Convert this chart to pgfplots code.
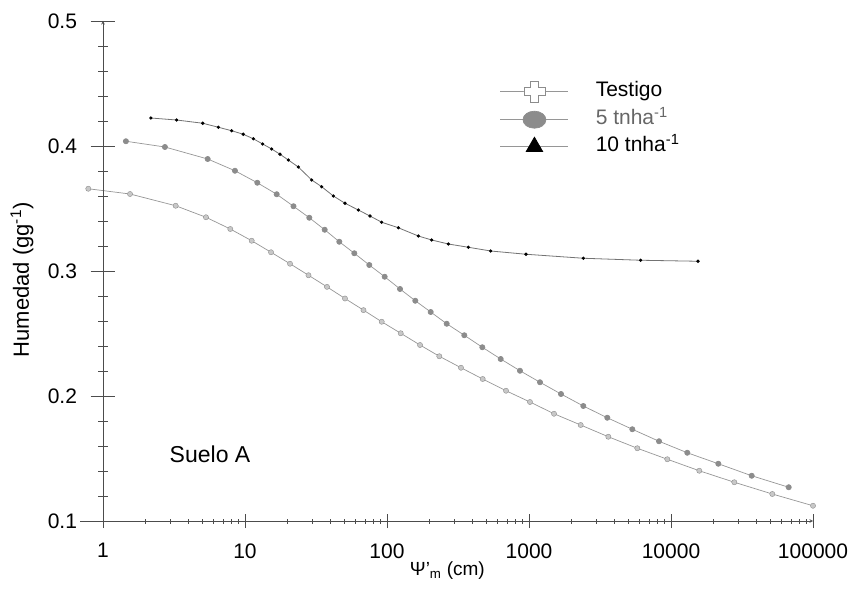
\documentclass[border=0pt]{standalone}
\usepackage{fontspec}
\setmainfont{Liberation Sans}
\usepackage{pgfplots}
\pgfplotsset{compat=1.18}
\definecolor{curvegray}{RGB}{150,150,150}
\definecolor{markgray}{RGB}{140,140,140}
\definecolor{lightmark}{RGB}{200,200,200}
\pgfdeclareplotmark{ocross}{%
  \pgfpathmoveto{\pgfqpoint{-0.38\pgfplotmarksize}{\pgfplotmarksize}}%
  \pgfpathlineto{\pgfqpoint{0.38\pgfplotmarksize}{\pgfplotmarksize}}%
  \pgfpathlineto{\pgfqpoint{0.38\pgfplotmarksize}{0.38\pgfplotmarksize}}%
  \pgfpathlineto{\pgfqpoint{\pgfplotmarksize}{0.38\pgfplotmarksize}}%
  \pgfpathlineto{\pgfqpoint{\pgfplotmarksize}{-0.38\pgfplotmarksize}}%
  \pgfpathlineto{\pgfqpoint{0.38\pgfplotmarksize}{-0.38\pgfplotmarksize}}%
  \pgfpathlineto{\pgfqpoint{0.38\pgfplotmarksize}{-\pgfplotmarksize}}%
  \pgfpathlineto{\pgfqpoint{-0.38\pgfplotmarksize}{-\pgfplotmarksize}}%
  \pgfpathlineto{\pgfqpoint{-0.38\pgfplotmarksize}{-0.38\pgfplotmarksize}}%
  \pgfpathlineto{\pgfqpoint{-\pgfplotmarksize}{-0.38\pgfplotmarksize}}%
  \pgfpathlineto{\pgfqpoint{-\pgfplotmarksize}{0.38\pgfplotmarksize}}%
  \pgfpathlineto{\pgfqpoint{-0.38\pgfplotmarksize}{0.38\pgfplotmarksize}}%
  \pgfpathclose
  \pgfusepathqfillstroke
}
\begin{document}
\begin{tikzpicture}[font=\fontsize{21}{24}\selectfont]
\begin{axis}[
  scale only axis,
  width=710pt, height=500pt,
  xmode=log,
  xmin=1, xmax=100000,
  ymin=0.1, ymax=0.5,
  clip=false,
  axis line style={-, black!70, line width=0.6pt},
  tick align=outside,
  tick style={black!70, line width=0.6pt},
  /pgf/number format/assume math mode=true,
  axis x line=bottom, axis y line=none,
  xtick={1,10,100,1000,10000,100000},
  xticklabels={1,10,100,1000,10000,100000},
  xticklabel style={font=\fontsize{21}{24}\selectfont, yshift=-12pt},
  major tick length=14pt, minor tick length=5pt,
  xlabel={Ψ’\textsubscript{m} (cm)},
  xlabel style={font=\fontsize{19}{22}\selectfont, at={([yshift=-50pt]rel axis cs:0.485,0)}, anchor=center},
  legend style={draw=none, fill=none, inner sep=0pt, at={(rel axis cs:0.559,0.880)}, anchor=north west,
    row sep=8.5pt, font=\fontsize{21}{24}\selectfont,
    nodes={inner ysep=0pt, inner xsep=0pt, text height=14pt, text depth=4pt},
    /tikz/every odd column/.append style={column sep=27pt}},
  legend cell align=left,
  legend image code/.code={\draw[mark repeat=2,mark phase=2,#1] plot coordinates {(0pt,0pt) (34pt,0pt) (68pt,0pt)};},
]
\addplot[curvegray, line width=0.7pt, mark=*, mark size=2.6pt, mark options={fill=lightmark, draw=markgray, line width=0.4pt}, forget plot] coordinates {
(0.788,0.3658) (1.55,0.3616) (3.25,0.3522) (5.31,0.3430) (7.88,0.3336) (11.15,0.3242) (15.25,0.3150) (20.75,0.3058) (28.0,0.2966) (37.8,0.2873) (50.6,0.2780) (68.3,0.2687) (91.8,0.2594) (124.9,0.2502) (170.8,0.2408) (233.5,0.2318) (332,0.2226) (472,0.2136) (689,0.2042) (1016,0.1952) (1500,0.1858) (2312,0.1768) (3619,0.1674) (5790,0.1582) (9417,0.1494) (15820,0.1402) (27910,0.1310) (51690,0.1216) (100000,0.1122)
};
\addplot[curvegray, line width=0.7pt, mark=*, mark size=2.6pt, mark options={fill=markgray, draw=markgray}, forget plot] coordinates {
(1.45,0.4038) (2.73,0.3992) (5.46,0.3896) (8.50,0.3802) (12.21,0.3706) (16.72,0.3614) (21.95,0.3518) (28.37,0.3426) (36.42,0.3330) (46.14,0.3234) (58.85,0.3142) (75.06,0.3048) (96.3,0.2954) (123.5,0.2856) (158.2,0.2762) (203.1,0.2672) (263.3,0.2578) (350.3,0.2486) (469.1,0.2390) (632,0.2296) (864,0.2202) (1195,0.2110) (1680,0.2016) (2413,0.1920) (3559,0.1826) (5340,0.1734) (8231,0.1638) (13020,0.1546) (21540,0.1458) (37010,0.1362) (67440,0.1270)
};
\addplot[black!55, line width=0.8pt, mark=*, mark size=1.2pt, mark options={fill=black, draw=black}, forget plot] coordinates {
(2.17,0.4224) (3.30,0.4208) (5.04,0.4182) (6.49,0.4150) (8.06,0.4122) (9.72,0.4094) (11.44,0.4058) (13.32,0.4016) (15.42,0.3976) (17.64,0.3934) (20.18,0.3888) (23.74,0.3832) (29.5,0.3728) (34.7,0.3674) (41.9,0.3600) (50.6,0.3542) (62.8,0.3488) (75.9,0.3440) (91.8,0.3390) (120.1,0.3346) (166.2,0.3280) (206.5,0.3248) (270.2,0.3216) (373.7,0.3190) (537.5,0.3160) (952.6,0.3134) (2413,0.3102) (6117,0.3086) (15490,0.3078)
};
\addlegendimage{curvegray, line width=0.7pt, mark=ocross, mark size=10.5pt, mark options={fill=white, draw=markgray, line width=0.7pt}}
\addlegendentry{Testigo}
\addlegendimage{curvegray, line width=0.7pt, mark=*, mark size=8.5pt, mark options={xscale=1.35, fill=markgray, draw=markgray}}
\addlegendentry{\textcolor{black!60}{5 tnha\textsuperscript{-1}}}
\addlegendimage{curvegray, line width=0.7pt, mark=triangle*, mark size=9.5pt, mark options={fill=black, draw=black}}
\addlegendentry{10 tnha\textsuperscript{-1}}
\draw[black!70, line width=0.6pt] (axis cs:0.69,0.1) -- (axis cs:1,0.1);
\node[font=\fontsize{23}{26}\selectfont] at (axis cs:5.67,0.153) {Suelo A};
\coordinate (ll) at (rel axis cs:0,0);
\coordinate (ur) at (rel axis cs:1,1);
\end{axis}
\begin{axis}[
  scale only axis,
  width=710pt, height=500pt,
  xmode=log,
  xmin=1, xmax=100000,
  ymin=0.1, ymax=0.5,
  clip=false,
  axis line style={-, black!70, line width=0.6pt},
  tick align=outside,
  tick style={black!70, line width=0.6pt},
  /pgf/number format/assume math mode=true,
  axis x line=none, axis y line=left,
  ytick={0.1,0.2,0.3,0.4,0.5},
  minor ytick={0.12,0.14,0.16,0.18,0.22,0.24,0.26,0.28,0.32,0.34,0.36,0.38,0.42,0.44,0.46,0.48},
  yticklabel style={/pgf/number format/fixed,/pgf/number format/precision=1,/pgf/number format/fixed zerofill, font=\fontsize{21}{24}\selectfont, xshift=-10pt},
  major tick length=25pt, minor tick length=10pt,
  ylabel={Humedad (gg\textsuperscript{-1})},
  ylabel style={font=\fontsize{22}{25}\selectfont, at={([xshift=-81pt]rel axis cs:0,0.482)}, anchor=center},
]
\end{axis}
\pgfresetboundingbox
\path ([shift={(-103pt,-74pt)}]ll) rectangle ([shift={(43pt,21pt)}]ur);
\end{tikzpicture}
\end{document}
